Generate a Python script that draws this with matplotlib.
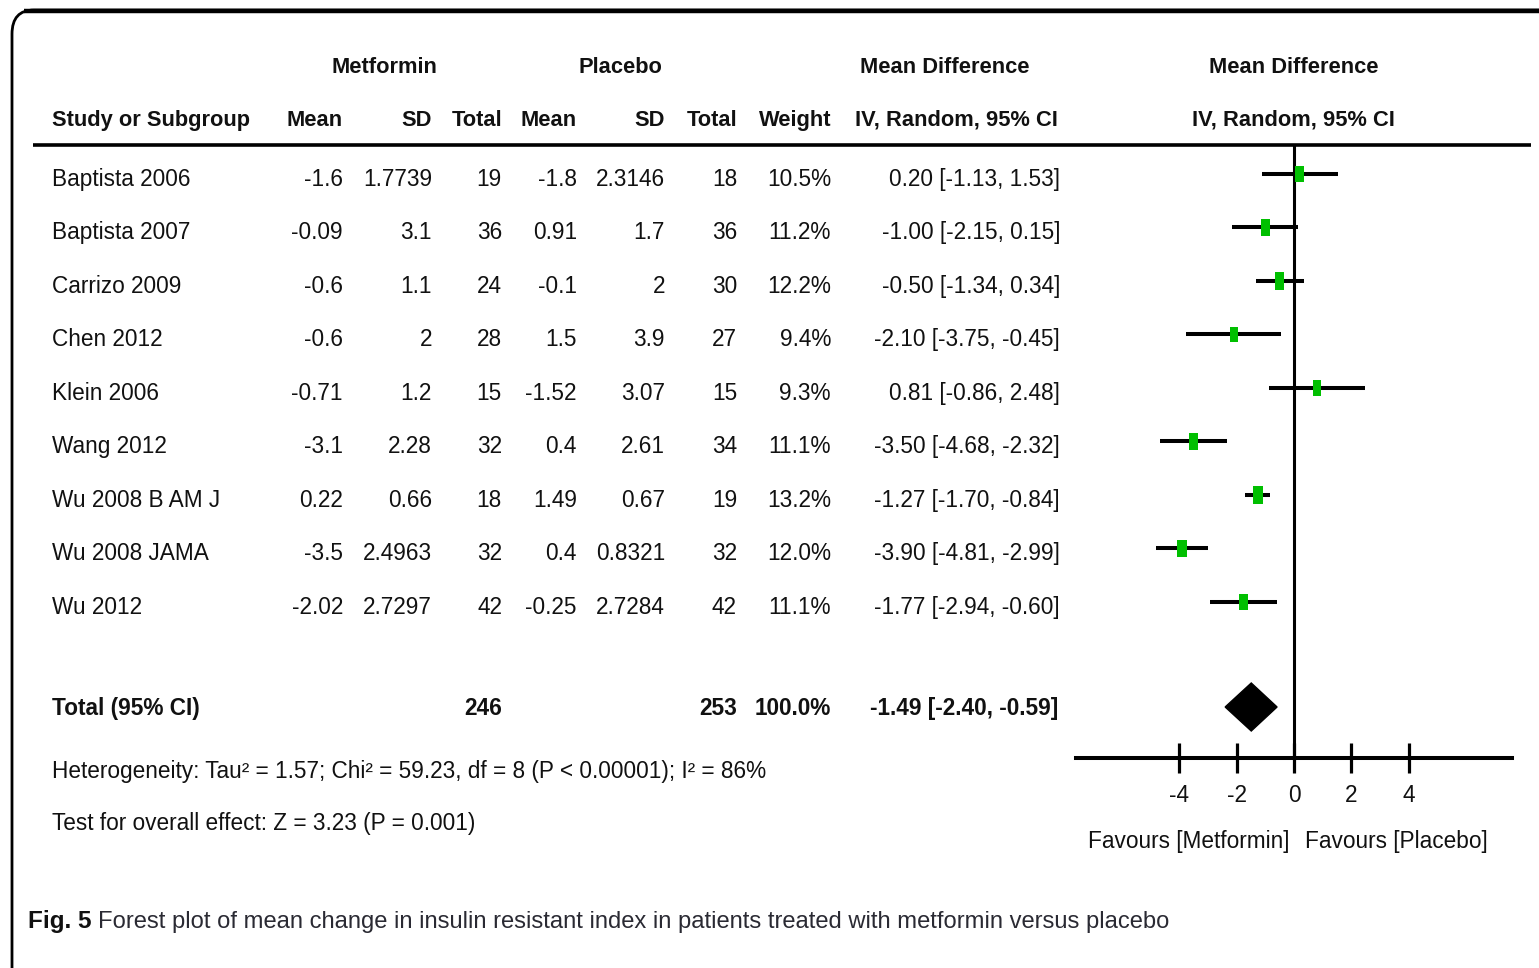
import matplotlib
matplotlib.use("Agg")
import matplotlib.pyplot as plt
from matplotlib import font_manager
from matplotlib.patches import Rectangle, Polygon, PathPatch
from matplotlib.path import Path
import numpy as np

# ---- study data -------------------------------------------------------
studies = ["Baptista 2006", "Baptista 2007", "Carrizo 2009", "Chen 2012",
           "Klein 2006", "Wang 2012", "Wu 2008 B AM J", "Wu 2008 JAMA", "Wu 2012"]
met_mean = [-1.6, -0.09, -0.6, -0.6, -0.71, -3.1, 0.22, -3.5, -2.02]
met_sd = [1.7739, 3.1, 1.1, 2, 1.2, 2.28, 0.66, 2.4963, 2.7297]
met_n = [19, 36, 24, 28, 15, 32, 18, 32, 42]
pla_mean = [-1.8, 0.91, -0.1, 1.5, -1.52, 0.4, 1.49, 0.4, -0.25]
pla_sd = [2.3146, 1.7, 2, 3.9, 3.07, 2.61, 0.67, 0.8321, 2.7284]
pla_n = [18, 36, 30, 27, 15, 34, 19, 32, 42]
weight = [10.5, 11.2, 12.2, 9.4, 9.3, 11.1, 13.2, 12.0, 11.1]
md = [0.20, -1.00, -0.50, -2.10, 0.81, -3.50, -1.27, -3.90, -1.77]
ci_lo = [-1.13, -2.15, -1.34, -3.75, -0.86, -4.68, -1.70, -4.81, -2.94]
ci_hi = [1.53, 0.15, 0.34, -0.45, 2.48, -2.32, -0.84, -2.99, -0.60]

total_met_n = 246
total_pla_n = 253
total_weight = 100.0
total_md = -1.49
total_lo = -2.40
total_hi = -0.59

heterogeneity = "Heterogeneity: Tau\u00b2 = 1.57; Chi\u00b2 = 59.23, df = 8 (P < 0.00001); I\u00b2 = 86%"
overall_test = "Test for overall effect: Z = 3.23 (P = 0.001)"
x_ticks = [-4, -2, 0, 2, 4]
caption_tag = "Fig. 5"
caption_text = "Forest plot of mean change in insulin resistant index in patients treated with metformin versus placebo"

# ---- figure / canvas in pixel units ----------------------------------
W, H, DPI = 1539, 968, 100
plt.rcParams["axes.unicode_minus"] = False
fig = plt.figure(figsize=(W / DPI, H / DPI), dpi=DPI, facecolor="white")
ax = fig.add_axes([0, 0, 1, 1])
ax.set_xlim(0, W)
ax.set_ylim(H, 0)
ax.axis("off")

installed = {f.name for f in font_manager.fontManager.ttflist}
FAMILY = next((f for f in ["Liberation Sans Narrow", "Liberation Sans", "DejaVu Sans"]
               if f in installed), "DejaVu Sans")
renderer = fig.canvas.get_renderer()
INK = "#111111"
GREEN = "#00BF00"


def fitted_size(s, target_px, weight="normal"):
    t = ax.text(0, 0, s, fontsize=20, family=FAMILY, weight=weight)
    w = t.get_window_extent(renderer).width
    t.remove()
    return 20 * target_px / w


BODY = fitted_size("Baptista 2006", 138)
HEAD = fitted_size("Study or Subgroup", 198, "bold")
CAP = fitted_size(caption_text, 1069)


def put(x, y, s, ha="left", size=None, weight="normal", color=INK):
    size = size or BODY
    cap_px = 0.69 * size * DPI / 72.0
    return ax.text(x, y + cap_px / 2, s, ha=ha, va="baseline", fontsize=size,
                   family=FAMILY, weight=weight, color=color)


# ---- frame ------------------------------------------------------------
frame = Path([(12, H + 5), (12, 34), (12, 10), (34, 10), (W + 5, 10)],
             [Path.MOVETO, Path.LINETO, Path.CURVE3, Path.CURVE3, Path.LINETO])
ax.add_patch(PathPatch(frame, fill=False, lw=2.0, ec="black", capstyle="butt"))
ax.plot([24, W + 5], [10.5, 10.5], color="black", lw=3.2, solid_capstyle="butt")

# ---- header -----------------------------------------------------------
col_right = {"m_mean": 343, "m_sd": 432, "m_n": 502, "p_mean": 577,
             "p_sd": 665, "p_n": 737, "w": 831, "ci": 1060}
ROW1, ROW2 = 65, 118
put(384, ROW1, "Metformin", "center", HEAD, "bold")
put(620, ROW1, "Placebo", "center", HEAD, "bold")
put(945, ROW1, "Mean Difference", "center", HEAD, "bold")
put(1294, ROW1, "Mean Difference", "center", HEAD, "bold")
put(52, ROW2, "Study or Subgroup", "left", HEAD, "bold")
for key, lab in [("m_mean", "Mean"), ("m_sd", "SD"), ("m_n", "Total"),
                 ("p_mean", "Mean"), ("p_sd", "SD"), ("p_n", "Total"),
                 ("w", "Weight")]:
    put(col_right[key], ROW2, lab, "right", HEAD, "bold")
put(956, ROW2, "IV, Random, 95% CI", "center", HEAD, "bold")
put(1293, ROW2, "IV, Random, 95% CI", "center", HEAD, "bold")
ax.plot([33, 1531], [144.5, 144.5], color="black", lw=2.6, solid_capstyle="butt")

# ---- study rows -------------------------------------------------------
ROW0, STEP = 178, 53.5
row_y = [ROW0 + STEP * i for i in range(len(studies))]
for i, y in enumerate(row_y):
    put(52, y, studies[i])
    put(col_right["m_mean"], y, f"{met_mean[i]:g}", "right")
    put(col_right["m_sd"], y, f"{met_sd[i]:g}", "right")
    put(col_right["m_n"], y, f"{met_n[i]}", "right")
    put(col_right["p_mean"], y, f"{pla_mean[i]:g}", "right")
    put(col_right["p_sd"], y, f"{pla_sd[i]:g}", "right")
    put(col_right["p_n"], y, f"{pla_n[i]}", "right")
    put(col_right["w"], y, f"{weight[i]:.1f}%", "right")
    put(col_right["ci"], y, f"{md[i]:.2f} [{ci_lo[i]:.2f}, {ci_hi[i]:.2f}]", "right")

TOTAL_Y = 707
put(52, TOTAL_Y, "Total (95% CI)", weight="bold")
put(col_right["m_n"], TOTAL_Y, f"{total_met_n}", "right", weight="bold")
put(col_right["p_n"], TOTAL_Y, f"{total_pla_n}", "right", weight="bold")
put(col_right["w"], TOTAL_Y, f"{total_weight:.1f}%", "right", weight="bold")
put(1058, TOTAL_Y, f"{total_md:.2f} [{total_lo:.2f}, {total_hi:.2f}]", "right", weight="bold")
put(52, 770, heterogeneity)
put(52, 822, overall_test)

# ---- forest panel -----------------------------------------------------
XL, XR, YT, YA = 1076, 1512, 145, 758
ax2 = fig.add_axes([XL / W, 1 - YA / H, (XR - XL) / W, (YA - YT) / H])
ax2.set_xlim(-7.6, 7.6)
ax2.set_ylim(YA, YT)
ax2.patch.set_alpha(0)
for s in ("top", "left", "right"):
    ax2.spines[s].set_visible(False)
ax2.spines["bottom"].set_linewidth(2.9)
ax2.set_yticks([])
ax2.set_xticks(x_ticks)
ax2.set_xticklabels([f"{t:g}" for t in x_ticks], family=FAMILY, fontsize=BODY, color=INK)
ax2.tick_params(axis="x", direction="inout", length=21, width=2.3, pad=8.5)
ax2.axvline(0, color="black", lw=2.2, zorder=1)

px_per_unit = (XR - XL) / 15.2
for i, y in enumerate(row_y):
    yy = y - 4
    ax2.plot([ci_lo[i], ci_hi[i]], [yy, yy], color="black", lw=2.9,
             solid_capstyle="butt", zorder=2)
    h = 16 * np.sqrt(weight[i] / 10.5)
    w = (h * 0.55) / px_per_unit
    ax2.add_patch(Rectangle((md[i] - w / 2, yy - h / 2), w, h, facecolor=GREEN,
                            edgecolor="none", zorder=3))

half_h = 24
ax2.add_patch(Polygon([(total_lo, TOTAL_Y), (total_md, TOTAL_Y - half_h),
                       (total_hi, TOTAL_Y), (total_md, TOTAL_Y + half_h)],
                      closed=True, facecolor="black", edgecolor="black", zorder=3))

put(1290, 840, "Favours [Metformin]", "right")
put(1305, 840, "Favours [Placebo]", "left")

# ---- caption ----------------------------------------------------------
tag = put(28, 920, caption_tag, size=CAP * 1.02, weight="bold")
put(98, 920, caption_text, size=CAP, color="#2a2a33")

fig.savefig("out.png", dpi=DPI, facecolor="white")
